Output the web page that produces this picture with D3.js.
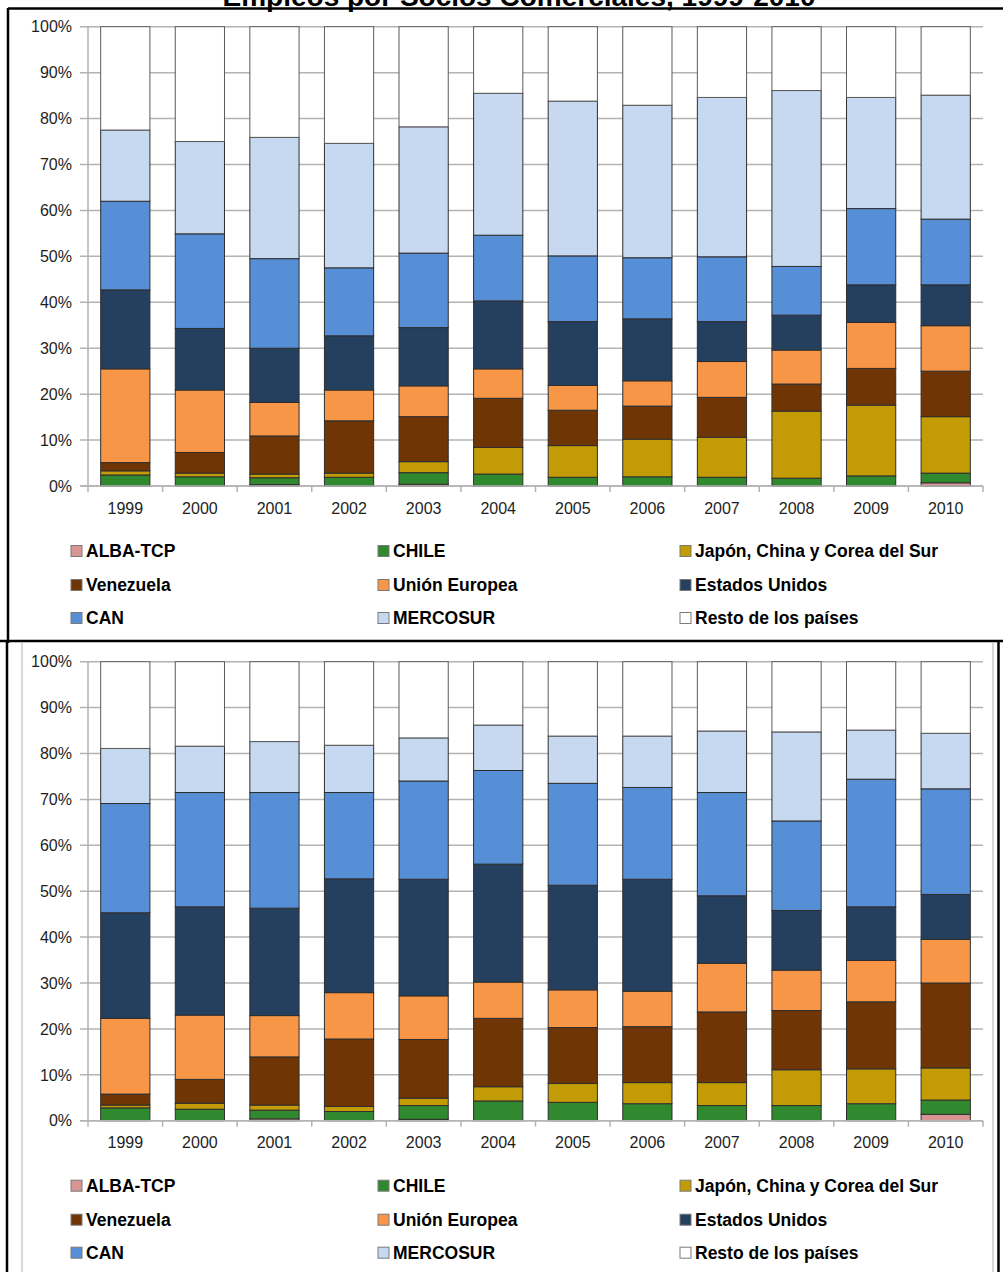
<!DOCTYPE html>
<html><head><meta charset="utf-8">
<script src="https://cdn.jsdelivr.net/npm/d3@7"></script>
<style>body{margin:0;background:#fff}svg{display:block}</style>
</head><body><svg id="c" width="1003" height="1272"></svg>
<script>
const title = "Empleos por Socios Comerciales, 1999-2010";
const years = ["1999","2000","2001","2002","2003","2004","2005","2006","2007","2008","2009","2010"];
const seriesNames = ["ALBA-TCP","CHILE","Japón, China y Corea del Sur","Venezuela","Unión Europea","Estados Unidos","CAN","MERCOSUR","Resto de los países"];
const seriesColors = ["#d99594","#31892f","#c29b05","#6f3505","#f79646","#253f5f","#568fd5","#c6d9f1","#ffffff"];
const yTickValues = [0,10,20,30,40,50,60,70,80,90,100];
const yTickLabels = ["0%","10%","20%","30%","40%","50%","60%","70%","80%","90%","100%"];

// Upper chart (percent shares)
const topAlba      = [0, 0, 0.3, 0, 0.4, 0, 0, 0, 0, 0, 0, 0.7];
const topChile     = [2.4, 2.0, 1.5, 1.9, 2.5, 2.6, 1.9, 2.0, 1.9, 1.7, 2.2, 2.1];
const topJapon     = [0.9, 0.8, 0.8, 0.9, 2.4, 5.8, 6.9, 8.2, 8.7, 14.6, 15.4, 12.3];
const topVenezuela = [1.8, 4.5, 8.3, 11.4, 9.8, 10.7, 7.7, 7.2, 8.7, 5.9, 8.0, 9.9];
const topUE        = [20.4, 13.6, 7.3, 6.7, 6.7, 6.4, 5.4, 5.5, 7.8, 7.4, 10.0, 9.9];
const topEEUU      = [17.2, 13.4, 11.8, 11.8, 12.7, 14.8, 13.9, 13.5, 8.7, 7.6, 8.2, 8.9];
const topCAN       = [19.3, 20.6, 19.5, 14.8, 16.2, 14.3, 14.3, 13.3, 14.1, 10.6, 16.6, 14.3];
const topMercosur  = [15.5, 20.1, 26.4, 27.1, 27.5, 30.9, 33.7, 33.2, 34.7, 38.3, 24.2, 27.0];
const topResto     = [22.5, 25.0, 24.1, 25.4, 21.8, 14.5, 16.2, 17.1, 15.4, 13.9, 15.4, 14.9];

// Lower chart (percent shares)
const botAlba      = [0, 0, 0.4, 0, 0.3, 0, 0, 0, 0, 0, 0, 1.4];
const botChile     = [2.8, 2.5, 1.9, 2.0, 3.0, 4.3, 4.0, 3.7, 3.3, 3.3, 3.7, 3.1];
const botJapon     = [0.6, 1.3, 1.1, 1.1, 1.6, 3.1, 4.1, 4.6, 5.0, 7.8, 7.6, 7.0];
const botVenezuela = [2.4, 5.2, 10.5, 14.7, 12.8, 14.9, 12.2, 12.2, 15.4, 12.9, 14.6, 18.5];
const botUE        = [16.5, 14.0, 9.0, 10.1, 9.5, 7.9, 8.2, 7.7, 10.6, 8.8, 9.0, 9.5];
const botEEUU      = [23.0, 23.6, 23.4, 24.8, 25.4, 25.7, 22.8, 24.4, 14.7, 13.0, 11.7, 9.8];
const botCAN       = [23.8, 24.9, 25.2, 18.8, 21.4, 20.4, 22.2, 20.0, 22.5, 19.5, 27.8, 23.0];
const botMercosur  = [12.0, 10.1, 11.1, 10.3, 9.4, 9.9, 10.3, 11.2, 13.4, 19.4, 10.7, 12.1];
const botResto     = [18.9, 18.4, 17.4, 18.2, 16.6, 13.8, 16.2, 16.2, 15.1, 15.3, 14.9, 15.6];

const topSeries = [topAlba, topChile, topJapon, topVenezuela, topUE, topEEUU, topCAN, topMercosur, topResto];
const botSeries = [botAlba, botChile, botJapon, botVenezuela, botUE, botEEUU, botCAN, botMercosur, botResto];

const svg = d3.select("#c");
const FONT = "'Liberation Sans', Arial, sans-serif";

function rowsFrom(series) {
  return years.map((y, i) => {
    const r = { year: y };
    seriesNames.forEach((n, k) => r[n] = series[k][i]);
    return r;
  });
}

function drawPanel(series, y0px, y100px) {
  const g = svg.append("g");
  const x = d3.scaleBand().domain(years).range([88, 983]).paddingInner(0.34).paddingOuter(0.17);
  const y = d3.scaleLinear().domain([0, 100]).range([y0px, y100px]);
  const yFrac = d3.scaleLinear().domain([0, 1]).range([y0px, y100px]);

  // gridlines
  g.append("g").selectAll("line").data(yTickValues).join("line")
    .attr("x1", 80).attr("x2", 983)
    .attr("y1", d => y(d)).attr("y2", d => y(d))
    .attr("stroke", "#b3b3b3").attr("stroke-width", 1.5);
  // y axis line
  g.append("line").attr("x1", 88).attr("x2", 88).attr("y1", y(0)).attr("y2", y(100))
    .attr("stroke", "#b3b3b3").attr("stroke-width", 1.5);
  // y labels
  g.append("g").selectAll("text").data(yTickValues).join("text")
    .attr("x", 72).attr("y", d => y(d)).attr("dy", "0.36em")
    .attr("text-anchor", "end").attr("font-family", FONT).attr("font-size", 16)
    .attr("fill", "#1e1e1e").text((d, i) => yTickLabels[i]);

  // bars
  const stack = d3.stack().keys(seriesNames).offset(d3.stackOffsetExpand);
  const stacked = stack(rowsFrom(series));
  g.append("g").selectAll("g").data(stacked).join("g")
    .attr("fill", (d, i) => seriesColors[i])
    .attr("stroke", (d, i) => i === 8 ? "#5a5a5a" : "#2e2e2e")
    .attr("stroke-width", 1)
    .selectAll("rect").data(d => d.filter(s => s[1] - s[0] > 0)).join("rect")
    .attr("x", d => x(d.data.year)).attr("width", x.bandwidth())
    .attr("y", d => yFrac(d[1])).attr("height", d => yFrac(d[0]) - yFrac(d[1]));

  // x axis
  g.append("line").attr("x1", 80).attr("x2", 983).attr("y1", y(0)).attr("y2", y(0))
    .attr("stroke", "#b3b3b3").attr("stroke-width", 1.5);
  const step = x.step();
  const bounds = d3.range(years.length + 1).map(i => 88 + i * step);
  g.append("g").selectAll("line").data(bounds).join("line")
    .attr("x1", d => d).attr("x2", d => d).attr("y1", y(0)).attr("y2", y(0) + 6)
    .attr("stroke", "#b3b3b3").attr("stroke-width", 1.5);
  g.append("g").selectAll("text").data(years).join("text")
    .attr("x", d => x(d) + x.bandwidth() / 2).attr("y", y(0) + 22).attr("dy", "0.36em")
    .attr("text-anchor", "middle").attr("font-family", FONT).attr("font-size", 16)
    .attr("fill", "#1e1e1e").text(d => d);

  // legend
  const colX = [71, 378, 680];
  const rowsY = [y(0) + 65, y(0) + 99, y(0) + 132];
  const lg = g.append("g").selectAll("g").data(seriesNames).join("g")
    .attr("transform", (d, i) => `translate(${colX[i % 3]},${rowsY[Math.floor(i / 3)]})`);
  lg.append("rect").attr("x", 0).attr("y", -5.5).attr("width", 11).attr("height", 11)
    .attr("fill", (d, i) => seriesColors[i]).attr("stroke", "#7a7a7a").attr("stroke-width", 1);
  lg.append("text").attr("x", 15).attr("y", 0).attr("dy", "0.36em")
    .attr("font-family", FONT).attr("font-weight", "bold").attr("font-size", 17.5)
    .attr("fill", "#000").text(d => d);
}

// title (mostly cropped at top, as in the reference)
svg.append("text").attr("x", 519).attr("y", 6).attr("text-anchor", "middle")
  .attr("font-family", FONT).attr("font-weight", "bold").attr("font-size", 28)
  .attr("fill", "#000").text(title);

drawPanel(topSeries, 486, 26.7);
drawPanel(botSeries, 1120.7, 661.7);

// frame lines
const frame = svg.append("g").attr("stroke", "#000").attr("stroke-width", 2.5);
frame.append("line").attr("x1", 8).attr("x2", 1003).attr("y1", 8.5).attr("y2", 8.5);
frame.append("line").attr("x1", 8).attr("x2", 8).attr("y1", 8).attr("y2", 643);
frame.append("line").attr("x1", 0).attr("x2", 1003).attr("y1", 641).attr("y2", 641);
frame.append("line").attr("x1", 7).attr("x2", 7).attr("y1", 641).attr("y2", 1272);
frame.append("line").attr("x1", 998.5).attr("x2", 998.5).attr("y1", 641).attr("y2", 1272);
const inner = svg.append("g").attr("stroke", "#b0b0b0").attr("stroke-width", 1);
inner.append("line").attr("x1", 22).attr("x2", 22).attr("y1", 643).attr("y2", 1272);
inner.append("line").attr("x1", 993).attr("x2", 993).attr("y1", 643).attr("y2", 1272);
</script></body></html>
